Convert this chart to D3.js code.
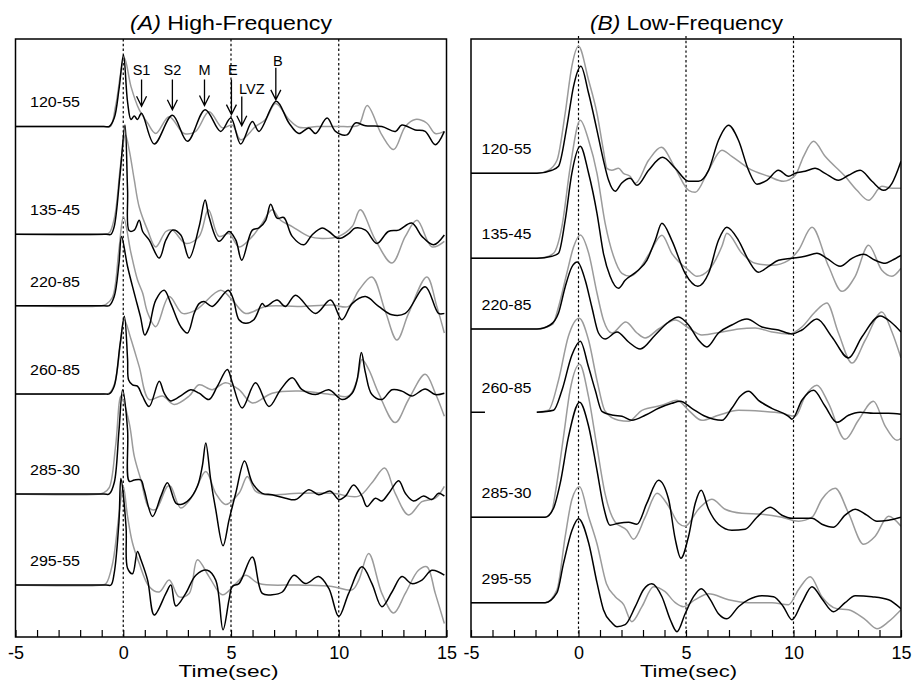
<!DOCTYPE html>
<html>
<head>
<meta charset="utf-8">
<script src="https://cdn.jsdelivr.net/npm/d3@7"></script>
<style>
  html, body { margin: 0; padding: 0; background: #fff; }
  svg { display: block; font-family: "Liberation Sans", Arial, Helvetica, sans-serif; }
</style>
</head>
<body>
<svg id="chart" width="917" height="685"></svg>
<script>
// Station labels (back-azimuth / distance bins), top to bottom
const stations = ["120-55", "135-45", "220-85", "260-85", "285-30", "295-55"];

// Time axis
const timeDomain = [-5, 15];
const timeTicks = d3.range(-5, 16, 1);
const refTimes = [0, 5, 10];

// Vertical shift of each trace (amplitude units)
const shiftHF = [-1.25, -2.79, -3.81, -5.07, -6.5, -7.8];
const shiftLF = [-1.343, -2.193, -2.9, -3.733, -4.782, -5.637];

// Phase annotations on the first high-frequency trace
const phaseNames = ["S1", "S2", "M", "E", "LVZ", "B"];
const phaseTimes = [0.85, 2.28, 3.77, 5.02, 5.5, 7.08];
const phaseTipAmp = [0.29, 0.24, 0.30, 0.17, 0.01, 0.38];
const phaseTailAmp = [0.67, 0.67, 0.67, 0.67, 0.43, 0.84];

// ---- High-frequency receiver functions: [time (s), amplitude] ----
const hfObs120_55 = [[-5,0],[-0.9,0],[-0.65,0],[-0.42,0.12],[-0.19,0.55],[0.01,1.02],[0.2,0.35],[0.36,0.1],[0.51,0.15],[0.66,0.1],[0.85,0.19],[1.44,-0.25],[2.28,0.16],[2.98,-0.21],[3.8,0.24],[4.52,-0.07],[4.99,0.12],[5.45,-0.25],[5.99,0.07],[6.3,-0.07],[7.1,0.36],[7.69,0.05],[8.15,-0.1],[8.61,-0.02],[8.92,-0.1],[9.46,0.12],[9.85,-0.07],[10.38,-0.12],[10.77,0.05],[11.24,0.01],[12.0,0],[12.63,-0.07],[12.93,0.02],[13.55,-0.05],[14.01,-0.07],[14.48,-0.26],[14.9,-0.07]];
const hfSyn120_55 = [[-5,0],[-0.9,0],[-0.6,0],[-0.35,0.3],[0.05,0.98],[0.36,0.57],[0.74,0.24],[1.13,0.05],[1.51,-0.1],[2.13,0.14],[2.82,-0.1],[3.36,-0.07],[3.98,0.21],[4.6,-0.02],[5.06,0.02],[5.45,-0.19],[6.14,0],[6.6,0.1],[7.07,0.33],[7.69,0.1],[8.15,-0.01],[9.0,0],[10.0,0],[10.6,0],[10.93,0.02],[11.32,0.3],[12.0,-0.12],[12.55,-0.33],[13.09,0],[13.55,0.1],[14.08,0.05],[14.48,-0.1],[14.9,-0.07]];

const hfObs135_45 = [[-5,0],[-0.8,0],[-0.57,0],[-0.42,0.11],[-0.15,0.85],[0.08,1.56],[0.2,0.63],[0.28,0.05],[0.51,0.06],[0.74,0.2],[0.9,0.04],[1.2,-0.08],[1.67,-0.34],[1.98,-0.08],[2.3,0.06],[2.67,-0.01],[3.06,-0.34],[3.52,0.11],[3.8,0.49],[3.98,0.25],[4.44,-0.1],[4.91,0.04],[5.22,-0.08],[5.5,-0.37],[5.99,0.06],[6.3,0.09],[6.61,0.2],[6.84,0.43],[7.14,0.23],[7.45,0.24],[7.84,-0.03],[8.38,-0.15],[8.76,-0.01],[9.23,0.09],[9.54,0.04],[10.0,-0.06],[10.46,0.01],[10.77,0.09],[11.24,0.06],[11.77,-0.13],[12.3,0.04],[12.78,0.06],[13.39,0.16],[13.86,-0.03],[14.4,-0.15],[14.9,-0.01]];
const hfSyn135_45 = [[-5,0],[-0.9,0],[-0.65,0.02],[-0.4,0.25],[-0.12,1.0],[0.1,1.42],[0.28,1.2],[0.51,0.78],[0.74,0.39],[1.13,0.06],[1.51,-0.18],[1.98,0.04],[2.28,0.06],[2.9,-0.13],[3.52,-0.03],[3.95,0.35],[4.44,-0.03],[4.91,0.01],[5.37,-0.18],[5.99,-0.03],[6.45,0.16],[6.91,0.35],[7.3,0.2],[7.84,0.11],[8.61,-0.03],[9.23,-0.06],[10.0,-0.03],[10.62,0.11],[11.0,0.35],[11.7,-0.08],[12.47,-0.41],[13.09,-0.03],[13.63,0.2],[14.32,-0.18],[14.9,-0.1]];

const hfObs220_85 = [[-5,0],[-0.9,0],[-0.65,0],[-0.42,0.13],[-0.2,0.6],[-0.08,0.99],[0.2,0.56],[0.51,0.18],[0.8,-0.16],[1.0,-0.42],[1.2,-0.3],[1.51,0.08],[1.9,0.22],[2.21,0.03],[2.67,-0.3],[2.98,-0.39],[3.3,-0.1],[3.52,0.03],[3.75,0.06],[4.13,-0.01],[4.87,0.22],[5.1,0.1],[5.37,-0.2],[5.68,-0.25],[6.06,-0.2],[6.45,0.03],[6.6,-0.01],[7.14,0.08],[7.53,-0.01],[7.99,0.15],[8.92,-0.11],[9.62,0.08],[10.15,-0.2],[10.62,0.03],[11.24,0.13],[11.85,-0.01],[12.47,-0.13],[13.09,-0.11],[14.01,0.27],[14.63,-0.11],[14.9,-0.11]];
const hfSyn220_85 = [[-5,0],[-1.0,0],[-0.8,0.02],[-0.5,0.12],[-0.2,0.8],[0.01,1.27],[0.36,0.75],[0.66,0.37],[0.9,0.18],[1.13,-0.1],[1.51,-0.3],[2.13,0.13],[2.75,-0.11],[3.37,-0.06],[4.52,0.22],[5.06,0.08],[5.68,-0.11],[6.61,-0.01],[8.15,-0.01],[9.69,0.01],[10.46,-0.01],[10.93,0.22],[11.54,0.41],[12.16,-0.08],[12.7,-0.49],[13.24,-0.11],[14.09,0.41],[14.55,-0.01],[14.9,-0.39]];

const hfObs260_85 = [[-5,0],[-0.9,0],[-0.65,0],[-0.42,0.11],[-0.15,0.7],[0.05,1.11],[0.2,0.5],[0.25,0.2],[0.43,0.13],[0.66,0.11],[0.89,-0.03],[1.2,-0.18],[1.67,0.18],[1.9,0.01],[2.2,-0.1],[2.75,-0.01],[3.13,0.06],[3.52,0.01],[3.98,-0.08],[4.37,0.11],[4.83,0.35],[5.06,0.16],[5.52,-0.2],[6.14,0.16],[6.76,-0.18],[7.3,0.06],[7.84,0.23],[8.3,0.06],[8.92,-0.01],[9.54,0.06],[10.15,-0.08],[10.62,0.01],[10.85,0.2],[11.05,0.59],[11.24,0.3],[11.54,-0.01],[12.0,-0.08],[12.47,0.06],[12.93,0.04],[13.39,-0.03],[14.01,0.07],[14.48,-0.01],[14.9,0.01]];
const hfSyn260_85 = [[-5,0],[-0.9,0],[-0.65,0.01],[-0.4,0.15],[-0.1,0.8],[0.05,1.06],[0.36,0.78],[0.74,0.39],[1.2,-0.08],[1.82,-0.03],[2.36,-0.15],[3.06,-0.03],[3.52,0.13],[4.13,0.06],[4.75,0.16],[5.37,0.06],[5.99,-0.13],[6.91,0.01],[8.15,0.04],[9.69,-0.01],[10.46,-0.03],[10.85,0.2],[11.08,0.49],[11.39,0.35],[11.85,0.01],[12.62,-0.41],[13.24,-0.08],[14.01,0.28],[14.48,0.01],[14.9,-0.32]];

const hfObs285_30 = [[-5,0],[-0.9,0],[-0.65,0],[-0.42,0.16],[-0.2,0.9],[-0.03,1.49],[0.2,0.92],[0.28,0.18],[0.51,0.2],[0.82,0.2],[0.97,0.06],[1.36,-0.32],[1.75,-0.03],[2.05,0.16],[2.44,-0.13],[2.67,-0.15],[3.06,-0.08],[3.44,0.11],[3.67,0.4],[3.83,0.73],[4.06,0.2],[4.29,-0.22],[4.63,-0.74],[4.91,-0.37],[5.22,0.01],[5.63,0.47],[5.99,0.16],[6.45,0.01],[6.91,-0.01],[7.53,-0.06],[8.0,-0.08],[8.61,0.06],[9.07,-0.01],[9.62,0.04],[10.0,-0.08],[10.31,-0.03],[10.69,0.13],[11.08,-0.03],[11.31,-0.18],[11.7,-0.06],[12.0,-0.1],[12.32,0.01],[12.78,0.19],[13.09,0.01],[13.47,-0.1],[13.94,-0.03],[14.32,-0.08],[14.63,0.01],[14.9,-0.03]];
const hfSyn285_30 = [[-5,0],[-1.1,0],[-0.9,0.02],[-0.65,0.09],[-0.35,0.7],[-0.1,1.4],[0.28,1.01],[0.51,0.54],[0.82,0.2],[1.2,-0.2],[1.51,-0.22],[2.05,0.11],[2.2,0.11],[2.67,-0.2],[3.21,-0.03],[3.83,0.32],[4.29,0.01],[4.75,-0.15],[5.37,0.01],[5.76,0.25],[6.14,0.04],[6.61,-0.01],[8.15,0.01],[9.69,0.01],[10.93,-0.03],[11.54,0.16],[12.13,0.37],[12.62,0.01],[13.24,-0.3],[13.86,-0.11],[14.48,-0.06],[14.9,0.11]];

const hfObs295_55 = [[-5,0],[-0.8,0],[-0.57,0],[-0.42,0.17],[-0.2,0.9],[-0.11,1.52],[0.13,0.83],[0.2,0.24],[0.43,0.16],[0.66,0.48],[0.82,0.36],[1.13,0.07],[1.44,-0.43],[1.98,-0.12],[2.21,0.0],[2.44,-0.3],[2.9,-0.12],[3.37,0.14],[3.9,0.21],[4.29,0.07],[4.63,-0.64],[4.91,-0.21],[5.06,-0.02],[5.37,0.02],[5.99,0.4],[6.45,-0.12],[6.91,-0.14],[7.38,-0.1],[7.92,0.14],[8.46,0.02],[9.07,0.12],[9.54,-0.05],[10.0,-0.45],[10.46,-0.12],[11.08,0.26],[11.54,0.02],[12.0,-0.31],[12.47,-0.1],[12.93,0.12],[13.39,0.02],[13.86,0.07],[14.32,0.21],[14.9,0.14]];
const hfSyn295_55 = [[-5,0],[-1.0,0],[-0.8,0.02],[-0.5,0.3],[-0.2,1.0],[0.0,1.41],[0.2,0.98],[0.43,0.6],[0.74,0.31],[1.2,-0.02],[1.67,-0.1],[2.13,0.07],[2.59,-0.17],[3.06,-0.12],[3.44,0.36],[3.98,0.12],[4.6,-0.14],[5.22,0.02],[5.68,0.14],[6.3,0.02],[8.15,0],[9.69,-0.02],[10.62,-0.07],[10.93,0.07],[11.39,0.45],[12.0,-0.12],[12.55,-0.4],[13.09,-0.12],[13.7,0.21],[14.09,0.26],[14.48,-0.12],[14.9,-0.55]];

// ---- Low-frequency receiver functions: [time (s), amplitude] ----
const lfObs120_55 = [[-5,0],[-1.93,0],[-1.24,0.03],[-0.93,0.07],[-0.54,0.47],[-0.23,0.87],[0.11,1.07],[0.47,0.8],[0.86,0.43],[1.16,0.13],[1.4,-0.07],[1.71,-0.18],[2.0,-0.1],[2.4,-0.05],[2.72,-0.12],[3.26,0.03],[3.91,0.16],[4.5,0.05],[5.12,-0.08],[5.58,-0.08],[6.05,0.03],[6.51,0.33],[6.98,0.48],[7.44,0.33],[7.91,0.03],[8.3,-0.11],[8.76,-0.07],[9.3,0.03],[9.77,-0.03],[10.08,0],[10.54,0.02],[11.0,0.05],[11.47,0],[12.09,-0.07],[12.56,-0.02],[13.1,0.03],[13.65,-0.08],[14.19,-0.17],[14.58,-0.1],[15.0,0.12]];
const lfSyn120_55 = [[-5,0],[-1.93,0],[-1.4,0.03],[-1.0,0.13],[-0.62,0.6],[-0.31,1.07],[0.0,1.27],[0.47,0.93],[0.86,0.6],[1.16,0.23],[1.32,0.05],[1.55,0.03],[1.86,0.05],[2.09,0.0],[2.4,-0.03],[2.64,-0.1],[3.26,0.13],[3.85,0.26],[4.5,0.05],[5.12,-0.17],[5.43,-0.19],[6.05,0.03],[6.67,0.23],[7.13,0.17],[7.91,0.05],[8.84,-0.03],[9.53,-0.08],[10.08,-0.02],[10.47,0.17],[10.93,0.32],[11.47,0.17],[12.4,-0.03],[12.95,-0.17],[13.49,-0.27],[14.11,-0.13],[14.58,-0.15],[15.0,-0.15]];

const lfObs135_45 = [[-5,0],[-1.93,0],[-1.24,0.02],[-0.93,0.05],[-0.62,0.38],[-0.31,0.85],[0.08,1.12],[0.47,0.85],[0.86,0.45],[1.16,0.05],[1.47,-0.18],[1.86,-0.3],[2.17,-0.22],[2.72,-0.13],[3.18,-0.02],[3.57,0.18],[3.88,0.35],[4.34,0.18],[4.96,-0.15],[5.55,-0.28],[6.05,-0.15],[6.51,0.18],[6.9,0.31],[7.44,0.18],[7.91,-0.02],[8.37,-0.14],[8.84,-0.08],[9.3,-0.02],[9.93,0],[10.54,0.02],[11.09,0.05],[11.55,0],[12.17,-0.08],[12.72,0],[13.26,0.04],[13.8,-0.02],[14.27,-0.05],[14.58,-0.02],[15.0,0.03]];
const lfSyn135_45 = [[-5,0],[-1.93,0],[-1.55,0.01],[-1.16,0.05],[-0.77,0.32],[-0.38,0.92],[0.08,1.38],[0.47,1.18],[0.86,0.85],[1.24,0.35],[1.63,0.02],[2.02,-0.15],[2.4,-0.18],[2.79,-0.12],[3.3,0.05],[3.88,0.23],[4.34,0.05],[5.12,-0.12],[5.51,-0.18],[6.05,-0.12],[6.67,0.12],[6.9,0.25],[7.6,0.05],[8.22,-0.05],[8.99,-0.07],[9.77,-0.02],[10.23,0.08],[10.86,0.31],[11.63,-0.08],[12.25,-0.33],[12.87,-0.18],[13.49,0.13],[14.11,-0.12],[14.58,-0.18],[15.0,-0.1]];

const lfObs220_85 = [[-5,0],[-1.93,0],[-1.32,0.04],[-0.93,0.16],[-0.62,0.42],[-0.31,0.62],[-0.05,0.67],[0.31,0.49],[0.62,0.22],[0.93,-0.04],[1.24,-0.1],[1.79,-0.03],[2.33,-0.13],[2.87,-0.2],[3.57,-0.06],[4.19,0.07],[4.65,0.12],[5.12,0.04],[5.58,-0.11],[5.97,-0.18],[6.51,-0.04],[7.13,0.04],[7.83,0.1],[8.53,0.02],[9.3,-0.01],[9.93,-0.05],[10.39,-0.01],[11.09,0.1],[11.79,-0.08],[12.56,-0.29],[13.18,-0.08],[14.03,0.13],[14.58,0.06],[15.0,-0.03]];
const lfSyn220_85 = [[-5,0],[-1.93,0],[-1.2,0.05],[-0.93,0.22],[-0.54,0.56],[-0.23,0.82],[0.08,0.94],[0.47,0.76],[0.86,0.36],[1.16,0.09],[1.55,-0.04],[2.2,0.07],[2.72,-0.04],[3.1,-0.09],[3.72,0.0],[4.5,0.09],[5.12,0.01],[5.74,-0.06],[6.67,-0.03],[7.44,0],[8.22,0.01],[9.0,-0.03],[9.77,-0.05],[10.39,0.02],[11.0,0.17],[11.55,0.26],[12.09,-0.04],[12.72,-0.34],[13.34,-0.11],[14.11,0.17],[14.58,-0.03],[15.0,-0.29]];

const lfObs260_85 = [[-5,0],[-4.35,0],[-4.3,null],[-1.94,0],[-1.16,0.02],[-0.77,0.22],[-0.31,0.57],[0.08,0.71],[0.47,0.45],[0.78,0.22],[1.09,0.01],[1.63,-0.03],[2.02,-0.04],[2.48,-0.08],[3.1,-0.03],[3.72,0.04],[4.34,0.09],[4.73,0.11],[5.27,0.04],[5.89,-0.04],[6.67,-0.08],[7.13,0.04],[7.52,0.16],[7.91,0.21],[8.37,0.12],[8.99,0.04],[9.77,-0.04],[9.93,-0.07],[10.39,0.12],[10.93,0.22],[11.47,0.06],[12.02,-0.1],[12.56,-0.03],[13.1,0],[13.72,-0.01],[14.42,-0.01],[15.0,-0.02]];
const lfSyn260_85 = [[-1.94,0],[-1.4,0.02],[-0.93,0.32],[-0.47,0.76],[0.03,0.94],[0.47,0.72],[0.86,0.32],[1.24,0.01],[1.86,-0.08],[2.33,-0.09],[2.95,0.02],[3.88,0.07],[4.58,0.12],[5.12,0.02],[5.74,-0.08],[6.51,-0.03],[7.44,0.02],[8.53,0.01],[9.46,-0.01],[10.08,-0.04],[10.54,0.16],[11.09,0.27],[11.63,0.09],[12.4,-0.27],[13.02,-0.08],[13.72,0.11],[14.27,-0.14],[14.81,-0.28],[15.0,-0.26]];

const lfObs285_30 = [[-5,0],[-1.55,0],[-1.16,0.09],[-0.85,0.34],[-0.47,0.8],[0.05,1.15],[0.47,0.91],[0.85,0.48],[1.16,0.11],[1.47,-0.08],[1.86,-0.06],[2.33,-0.05],[2.72,-0.07],[3.18,0.14],[3.72,0.37],[4.19,0.18],[4.5,-0.22],[4.76,-0.41],[5.12,-0.19],[5.43,0.14],[5.71,0.27],[6.05,0.08],[6.51,-0.07],[7.13,-0.13],[7.75,-0.12],[8.3,0],[8.92,0.1],[9.46,0.02],[9.93,-0.01],[10.86,-0.01],[11.32,-0.07],[11.86,-0.1],[12.4,0.02],[12.87,0.08],[13.41,0.02],[13.88,-0.04],[14.42,-0.03],[15.0,0]];
const lfSyn285_30 = [[-5,0],[-1.55,0],[-1.24,0.06],[-1.08,0.24],[-0.7,0.8],[-0.39,1.27],[0.05,1.53],[0.47,1.2],[0.86,0.7],[1.24,0.23],[1.71,-0.05],[2.25,-0.13],[2.56,-0.22],[3.1,0],[3.65,0.24],[4.19,0.11],[4.65,-0.06],[4.96,-0.09],[5.58,0.08],[6.2,0.18],[6.82,0.08],[7.6,0.04],[8.53,0.03],[9.46,0],[10.23,-0.04],[10.86,0],[11.32,0.18],[11.94,0.29],[12.56,0.04],[13.26,-0.27],[13.8,-0.19],[14.42,0.01],[15.0,-0.09]];

const lfObs295_55 = [[-5,0],[-1.55,0],[-1.0,0.1],[-0.7,0.39],[-0.31,0.72],[0.0,0.84],[0.47,0.6],[0.86,0.2],[1.16,-0.07],[1.55,-0.2],[1.79,-0.24],[2.17,-0.22],[2.64,-0.04],[3.02,0.13],[3.41,0.19],[3.88,0.06],[4.27,-0.17],[4.58,-0.29],[4.96,-0.11],[5.35,0.06],[5.71,0.14],[6.13,0.03],[6.51,-0.11],[6.9,-0.16],[7.44,-0.04],[7.91,0.03],[8.53,0.07],[9.07,0.06],[9.53,-0.04],[9.93,-0.17],[10.39,0],[10.86,0.16],[11.32,0.04],[11.86,-0.09],[12.4,0],[12.87,0.07],[13.65,0.06],[14.42,0.03],[15.0,-0.06]];
const lfSyn295_55 = [[-5,0],[-1.55,0],[-1.0,0.13],[-0.62,0.66],[-0.31,1.03],[0.05,1.16],[0.47,0.86],[0.86,0.59],[1.3,0.19],[1.71,0.06],[2.1,-0.02],[2.48,-0.19],[2.95,-0.04],[3.49,0.16],[4.03,0.11],[4.5,0],[4.88,-0.04],[5.43,0.03],[6.05,0.09],[6.98,0.03],[7.91,0],[9.0,0],[9.77,-0.02],[10.23,0.13],[10.78,0.26],[11.32,0.06],[12.02,-0.06],[12.56,-0.07],[13.34,-0.17],[13.88,-0.26],[14.42,-0.19],[15.0,-0.07]];

// ---- Layout ----
const svg = d3.select("#chart");
const frameTop = 39, frameBottom = 637;
const black = "#000", gray = "#9b9b9b";

const panels = [
  {
    id: "hf", tag: "(A)", title: " High-Frequency",
    left: 15.5, right: 446.5, span: 8.543,
    shift: shiftHF,
    obs: [hfObs120_55, hfObs135_45, hfObs220_85, hfObs260_85, hfObs285_30, hfObs295_55],
    syn: [hfSyn120_55, hfSyn135_45, hfSyn220_85, hfSyn260_85, hfSyn285_30, hfSyn295_55],
    curve: d3.curveCatmullRom.alpha(0.5),
    titleX: 130, titleLen: 202, labelDx: 14.5, xTitleX: 178.5, xTitleLen: 100
  },
  {
    id: "lf", tag: "(B)", title: " Low-Frequency",
    left: 471, right: 901, span: 5.98,
    shift: shiftLF,
    obs: [lfObs120_55, lfObs135_45, lfObs220_85, lfObs260_85, lfObs285_30, lfObs295_55],
    syn: [lfSyn120_55, lfSyn135_45, lfSyn220_85, lfSyn260_85, lfSyn285_30, lfSyn295_55],
    curve: d3.curveMonotoneX,
    titleX: 590, titleLen: 193, labelDx: 10.5, xTitleX: 640, xTitleLen: 97
  }
];

panels.forEach(p => {
  const x = d3.scaleLinear().domain(timeDomain).range([p.left, p.right]);
  const y = d3.scaleLinear().domain([0, -p.span]).range([frameTop, frameBottom]);
  const g = svg.append("g");

  g.append("clipPath").attr("id", "clip-" + p.id)
    .append("rect")
    .attr("x", p.left).attr("y", frameTop)
    .attr("width", p.right - p.left).attr("height", frameBottom - frameTop);

  // Reference time lines
  g.selectAll(".ref").data(refTimes).join("line")
    .attr("x1", d => x(d)).attr("x2", d => x(d))
    .attr("y1", frameTop - (p.id === "lf" ? 3 : 0)).attr("y2", frameBottom)
    .attr("stroke", black).attr("stroke-width", 1.2)
    .attr("stroke-dasharray", "2.4,2.4");

  const plot = g.append("g").attr("clip-path", `url(#clip-${p.id})`);

  const lineFor = (shift) => d3.line()
    .defined(d => d[1] !== null)
    .x(d => x(d[0]))
    .y(d => y(shift + d[1]))
    .curve(p.curve);

  // Synthetic traces (gray) underneath, observed (black) on top
  p.syn.forEach((trace, i) => {
    plot.append("path").datum(trace)
      .attr("d", lineFor(p.shift[i]))
      .attr("fill", "none").attr("stroke", gray)
      .attr("stroke-width", 1.5).attr("stroke-linejoin", "round");
  });
  p.obs.forEach((trace, i) => {
    plot.append("path").datum(trace)
      .attr("d", lineFor(p.shift[i]))
      .attr("fill", "none").attr("stroke", black)
      .attr("stroke-width", 1.5).attr("stroke-linejoin", "round");
  });

  // Station labels
  g.selectAll(".stn").data(stations).join("text")
    .attr("x", p.left + p.labelDx)
    .attr("y", (d, i) => y(p.shift[i]) - 19)
    .attr("font-size", 14)
    .attr("textLength", 50).attr("lengthAdjust", "spacingAndGlyphs")
    .attr("fill", black)
    .text(d => d);

  // Frame
  g.append("rect")
    .attr("x", p.left).attr("y", frameTop)
    .attr("width", p.right - p.left).attr("height", frameBottom - frameTop)
    .attr("fill", "none").attr("stroke", black).attr("stroke-width", 1.5);

  // Time axis with inward ticks
  const axis = d3.axisBottom(x)
    .tickValues(timeTicks)
    .tickSize(-7)
    .tickPadding(9)
    .tickFormat(d => d % 5 === 0 ? String(d) : "");
  const ax = g.append("g")
    .attr("transform", `translate(0,${frameBottom})`)
    .call(axis);
  ax.select(".domain").remove();
  ax.selectAll(".tick line").attr("stroke-width", 1.2);
  ax.selectAll(".tick text")
    .attr("font-size", 18)
    .attr("font-family", "\"Liberation Sans\", Arial, sans-serif")
    .attr("fill", black);

  // Axis title
  g.append("text")
    .attr("x", p.xTitleX).attr("y", 677)
    .attr("font-size", 17)
    .attr("textLength", p.xTitleLen).attr("lengthAdjust", "spacingAndGlyphs")
    .attr("fill", black)
    .text("Time(sec)");

  // Panel title
  const t = g.append("text")
    .attr("x", p.titleX).attr("y", 30)
    .attr("font-size", 21)
    .attr("textLength", p.titleLen).attr("lengthAdjust", "spacingAndGlyphs")
    .attr("fill", black);
  t.append("tspan").attr("font-style", "italic").text(p.tag);
  t.append("tspan").text(p.title);

  // Phase arrows on the first high-frequency trace
  if (p.id === "hf") {
    const labelDx = { S1: 0, S2: 0, M: 0, E: 1.5, LVZ: 10, B: 2 };
    const labelGap = { S1: 5, S2: 5, M: 5, E: 5, LVZ: 2, B: 2 };
    const arrows = g.append("g")
      .attr("stroke", black).attr("stroke-width", 1.3).attr("fill", "none");
    phaseNames.forEach((name, i) => {
      const ax0 = x(phaseTimes[i]);
      const tip = y(p.shift[0] + phaseTipAmp[i]);
      const tail = y(p.shift[0] + phaseTailAmp[i]);
      arrows.append("path")
        .attr("d", `M${ax0},${tail}L${ax0},${tip}M${ax0 - 5},${tip - 10}L${ax0},${tip}L${ax0 + 5},${tip - 10}`);
      g.append("text")
        .attr("x", ax0 + labelDx[name]).attr("y", tail - labelGap[name])
        .attr("text-anchor", "middle")
        .attr("font-size", 14.5)
        .attr("fill", black)
        .text(name);
    });
  }
});
</script>
</body>
</html>
